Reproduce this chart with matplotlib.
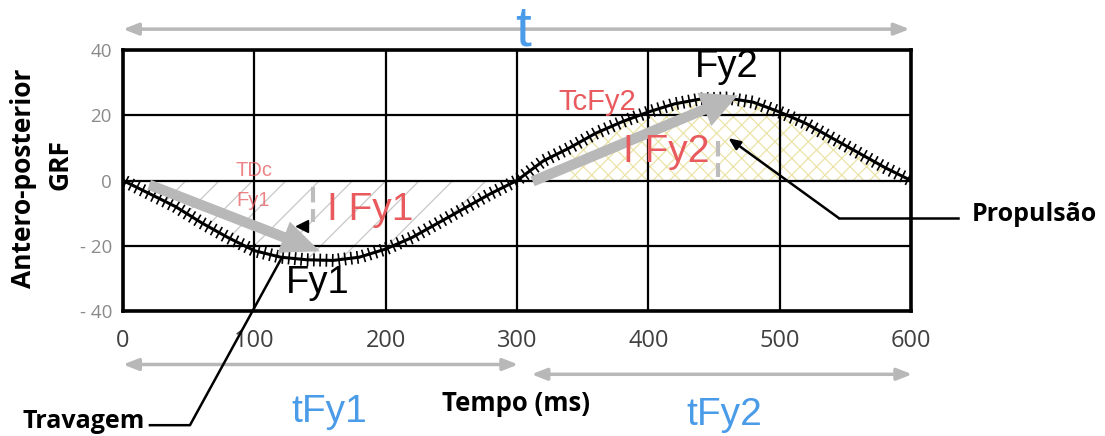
import matplotlib
matplotlib.use('Agg')
import matplotlib.pyplot as plt
import matplotlib.patheffects as pe
import numpy as np

# dados (GRF antero-posterior)
tempo = [0, 20, 40, 60, 80, 100, 120, 140, 160, 180, 200, 220, 240, 260, 280, 300,
         320, 340, 360, 380, 400, 420, 440, 460, 480, 500, 520, 540, 560, 580, 600]
grf = [0, -4, -8, -13, -17.5, -21.5, -23.5, -24.3, -24.5, -23.5, -21, -17.5, -13, -8.5, -4, 0,
       6, 10, 14.5, 18, 21, 23.5, 25, 25.3, 24, 21, 17.5, 13, 8.5, 4, 0]

xticks = [0, 100, 200, 300, 400, 500, 600]
yticks = [-40, -20, 0, 20, 40]
ytick_labels = ['- 40', '- 20', '0', '20', '40']

cinza = '#b8b8b8'
vermelho = '#e85a5e'
azul = '#4a9be8'

fig = plt.figure(figsize=(11.05, 4.36), dpi=100)
ax = fig.add_axes([0.1113, 0.2867, 0.7131, 0.5986])

t = np.array(tempo)
g = np.array(grf)

plt.rcParams['hatch.linewidth'] = 0.9
# areas tracejadas (impulsos)
ax.fill_between(t, g, 0, where=(t >= 20) & (t <= 290), facecolor='none',
                edgecolor='#c8c8c8', hatch='/', linewidth=0)
ax.fill_between(t, g, 0, where=(t >= 330) & (t <= 590), facecolor='none',
                edgecolor='#ece3a8', hatch='xx', linewidth=0)

ax.plot(t, g, color='k', lw=2.2, zorder=5,
        path_effects=[pe.Normal(),
                      pe.TickedStroke(spacing=4.5, angle=90, length=0.9, linewidth=1.2),
                      pe.TickedStroke(spacing=4.5, angle=-90, length=0.9, linewidth=1.2)])

ax.set_xlim(0, 600)
ax.set_ylim(-40, 40)
ax.set_xticks(xticks)
ax.set_yticks(yticks)
ax.set_yticklabels(ytick_labels)
ax.tick_params(length=0)
ax.tick_params(axis='x', pad=13, labelsize=17, labelcolor='#404040')
ax.tick_params(axis='y', pad=8, labelsize=13.5, labelcolor='#8a8a8a')
for lab in ax.get_xticklabels() + ax.get_yticklabels():
    lab.set_family('Open Sans')
ax.grid(True, color='k', lw=1.6)
for s in ax.spines.values():
    s.set_linewidth(2.6)

# setas cinzentas grandes (Fy1 e Fy2)
ax.annotate('', xy=(152, -22), xytext=(18, -1),
            arrowprops=dict(arrowstyle='simple,head_length=2.8,head_width=2.4,tail_width=0.75',
                            mutation_scale=10, color=cinza, lw=0), zorder=6)
ax.annotate('', xy=(470, 26.4), xytext=(310, -0.6),
            arrowprops=dict(arrowstyle='simple,head_length=2.6,head_width=2.6,tail_width=0.75',
                            mutation_scale=10, color=cinza, lw=0), zorder=6)

# setas duplas de tempo
ax.annotate('', xy=(0, 46.4), xytext=(599, 46.4), annotation_clip=False,
            arrowprops=dict(arrowstyle='<|-|>,head_length=0.9,head_width=0.35',
                            color=cinza, lw=2.5, shrinkA=0, shrinkB=0))
ax.annotate('', xy=(0, -56.4), xytext=(301, -56.4), annotation_clip=False,
            arrowprops=dict(arrowstyle='<|-|>,head_length=0.9,head_width=0.35',
                            color=cinza, lw=2.5, shrinkA=0, shrinkB=0))
ax.annotate('', xy=(311, -59.4), xytext=(601, -59.4), annotation_clip=False,
            arrowprops=dict(arrowstyle='<|-|>,head_length=0.9,head_width=0.35',
                            color=cinza, lw=2.5, shrinkA=0, shrinkB=0))

helv = 'Liberation Sans'
ax.text(305, 46, 't', color=azul, fontsize=41, family=helv, ha='center', va='center', clip_on=False)
ax.text(157, -71, 'tFy1', color=azul, fontsize=28, family=helv, ha='center', va='center', clip_on=False)
ax.text(458, -72, 'tFy2', color=azul, fontsize=28, family=helv, ha='center', va='center', clip_on=False)

ax.text(148, -31.5, 'Fy1', color='k', fontsize=27.5, family=helv, ha='center', va='center', zorder=7)
ax.text(460, 34.8, 'Fy2', color='k', fontsize=27.5, family=helv, ha='center', va='center', zorder=7)
ax.text(188, -9, 'I Fy1', color=vermelho, fontsize=28, family=helv, ha='center', va='center', zorder=7)
ax.text(414, 8.8, 'I Fy2', color=vermelho, fontsize=28, family=helv, ha='center', va='center', zorder=7)
ax.text(361, 24, 'TcFy2', color=vermelho, fontsize=21, family=helv, ha='center', va='center', zorder=7)
ax.text(100, 3, 'TDc', color=vermelho, fontsize=14.5, family=helv, ha='center', va='center',
        alpha=0.75, zorder=7)
ax.text(99, -6, 'Fy1', color=vermelho, fontsize=14.5, family=helv, ha='center', va='center',
        alpha=0.75, zorder=7)

# pequenos marcadores cinzentos e triangulo preto
ax.plot([145, 145], [-2, -12.7], color='#bdbdbd', lw=3, ls='--', zorder=4)
ax.plot([453, 453], [12, 1], color='#bdbdbd', lw=3, ls='--', zorder=4)
ax.plot([136], [-14], marker='<', color='k', ms=8, zorder=7)

# Propulsao
ax.annotate('', xy=(461, 13), xytext=(545, -11.5),
            arrowprops=dict(arrowstyle='-|>,head_length=0.7,head_width=0.3',
                            color='k', lw=1.8, shrinkA=0, shrinkB=0), zorder=8)
ax.plot([545, 636], [-11.5, -11.5], color='k', lw=1.8, clip_on=False)
ax.text(646, -10.5, 'Propulsão', fontsize=18, fontweight='bold', family='Open Sans',
        ha='left', va='center', clip_on=False)

# Travagem
ax.plot([20.5, 51, 121], [-75, -75, -23.6], color='k', lw=1.8, clip_on=False, zorder=8)
ax.text(17, -73.8, 'Travagem', fontsize=18, fontweight='bold', family='Open Sans',
        ha='right', va='center', clip_on=False)

ax.text(299, -68.5, 'Tempo (ms)', fontsize=18.5, fontweight='bold', family='Open Sans',
        ha='center', va='center', clip_on=False)

fig.text(24 / 1105, 1 - 178 / 436, 'Antero-posterior', rotation=90, fontsize=19,
         fontweight='bold', family='Open Sans', ha='center', va='center')
fig.text(60 / 1105, 1 - 165 / 436, 'GRF', rotation=90, fontsize=19,
         fontweight='bold', family='Open Sans', ha='center', va='center')

fig.savefig('out.png', dpi=100)
